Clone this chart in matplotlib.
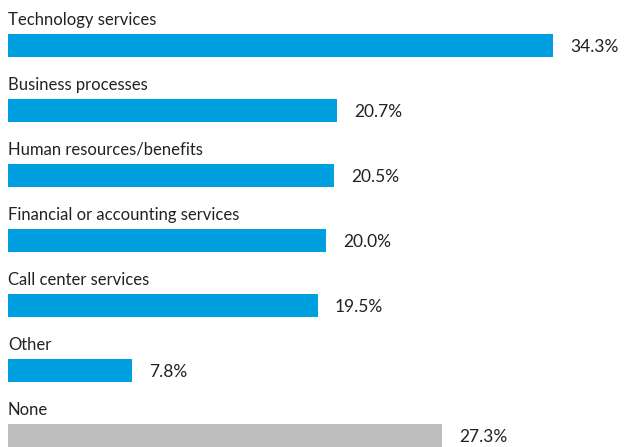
import matplotlib.pyplot as plt

categories = ["Technology services", "Business processes", "Human resources/benefits",
              "Financial or accounting services", "Call center services", "Other", "None"]
values = [34.3, 20.7, 20.5, 20.0, 19.5, 7.8, 27.3]
colors = ["#009FDF"] * 6 + ["#BEBEBE"]

plt.rcParams['font.family'] = ['Lato', 'DejaVu Sans']

fig = plt.figure(figsize=(6.24, 4.47), dpi=100)
ax = fig.add_axes([0, 0, 1, 1])

ypos = list(range(len(values)))
ax.barh(ypos, values, height=0.354, color=colors)

for y, v, name in zip(ypos, values, categories):
    ax.text(0, y - 0.27, name, va='bottom', ha='left', fontsize=12, color='#222222')
    ax.text(v + 1.07, y + 0.03, f"{v:.1f}%", va='center', ha='left', fontsize=12.5,
            color='#222222')

ax.set_xlim(-0.503, 38.74)
ax.set_ylim(6.177, -0.7)
ax.axis('off')

fig.savefig("out.png", dpi=100)
